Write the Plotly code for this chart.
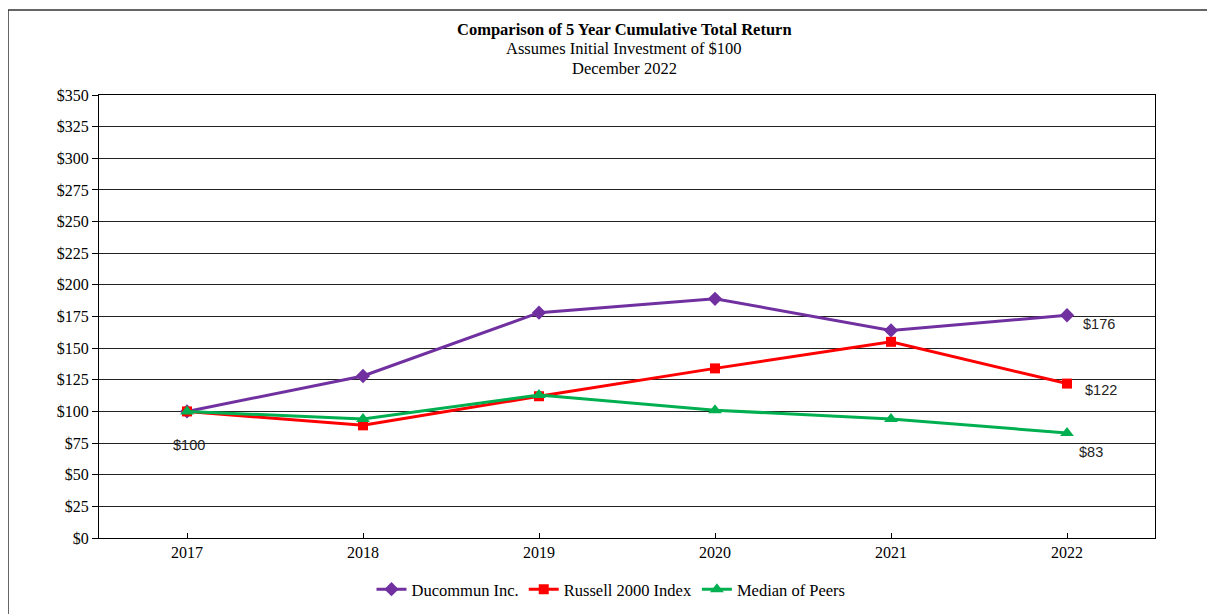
import plotly.graph_objects as go

years = ["2017", "2018", "2019", "2020", "2021", "2022"]
ducommun = [100, 128, 178, 189, 164, 176]
russell = [100, 89, 112, 134, 155, 122]
peers = [100, 94, 113, 101, 94, 83]
y_ticks = list(range(0, 351, 25))
y_labels = [f"${v}" for v in y_ticks]
title_lines = ["<b>Comparison of 5 Year Cumulative Total Return</b>",
               "Assumes Initial Investment of $100", "December 2022"]

serif = "Liberation Serif"

# figure is drawn inside the page's 8px body margin
W, H = 1207, 614
L, R, T, B = 91, 60, 87, 84
pw, ph = W - L - R, H - T - B
OFF = 8


def px_x(sx):
    return (sx - OFF - L) / pw


def px_y(sy):
    return (H - B - (sy - OFF)) / ph


fig = go.Figure()
fig.add_trace(go.Scatter(x=years, y=ducommun, name="Ducommun Inc.", mode="lines+markers",
                         line=dict(color="#7030A0", width=3),
                         marker=dict(symbol="diamond", size=11, color="#7030A0")))
fig.add_trace(go.Scatter(x=years, y=russell, name="Russell 2000 Index", mode="lines+markers",
                         line=dict(color="#FF0000", width=3),
                         marker=dict(symbol="square", size=10, color="#FF0000")))
fig.add_trace(go.Scatter(x=years, y=peers, name="Median of Peers", mode="lines+markers",
                         line=dict(color="#00B050", width=3),
                         marker=dict(symbol="triangle-up", size=12, color="#00B050")))

label_font = dict(family="Liberation Sans", size=14.5, color="#222222")
last = len(years) - 1
labels = [
    (0, russell[0], 2, -34),
    (last, ducommun[-1], 32, -9),
    (last, russell[-1], 34, -6),
    (last, peers[-1], 24, -19),
]
for xi, y, dx, dy in labels:
    fig.add_annotation(x=xi, y=y, text=f"${y}", showarrow=False, xshift=dx, yshift=dy,
                       font=label_font, xref="x", yref="y")

for line, sy in zip(title_lines, [30, 49, 68]):
    fig.add_annotation(text=line, x=px_x(624), y=px_y(sy), xref="paper", yref="paper",
                       xanchor="center", yanchor="middle", showarrow=False,
                       font=dict(family=serif, size=16.5, color="black"))

fig.add_shape(type="rect", xref="paper", yref="paper",
              x0=px_x(8), x1=px_x(1240),
              y0=px_y(640), y1=px_y(10),
              line=dict(color="#333333", width=1.5), fillcolor="rgba(0,0,0,0)", layer="below")

fig.update_layout(
    width=W, height=H,
    margin=dict(l=L, r=R, t=T, b=B),
    paper_bgcolor="white", plot_bgcolor="white",
    font=dict(family=serif, size=16, color="black"),
    showlegend=True,
    legend=dict(orientation="h", x=px_x(611), xanchor="center", y=px_y(572), yanchor="top",
                font=dict(family=serif, size=16.5, color="black"), itemwidth=30,
                tracegroupgap=0),
    xaxis=dict(type="category", range=[-0.5, 5.5], showgrid=False, showline=True, linecolor="black",
               linewidth=1, mirror=True, ticks="inside", ticklen=5, tickcolor="black",
               tickfont=dict(family=serif, size=16)),
    yaxis=dict(range=[0, 350], tickvals=y_ticks, ticktext=y_labels, showgrid=True, gridcolor="#222222",
               gridwidth=1, showline=True, linecolor="black", linewidth=1, mirror=True,
               ticks="outside", ticklen=6, tickcolor="black", zeroline=False,
               tickfont=dict(family=serif, size=16)),
)

fig.write_html("out.html")
